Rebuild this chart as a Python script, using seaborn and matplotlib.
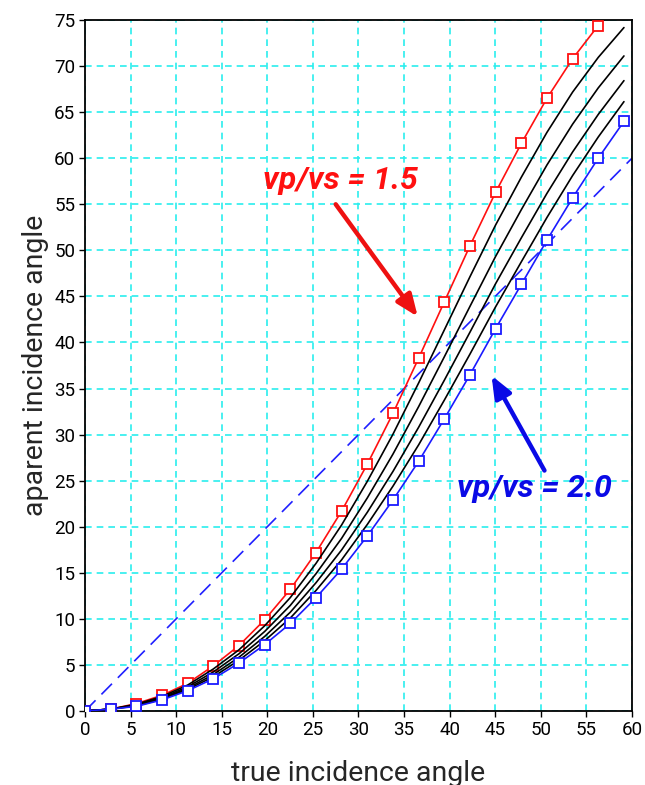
import matplotlib
matplotlib.use("Agg")
import matplotlib.pyplot as plt
import seaborn as sns
import numpy as np

sns.set_theme(style="white")
plt.rcParams['font.family'] = ['Roboto', 'DejaVu Sans']

# true incidence angle samples
true_angle = [0, 2.82, 5.63, 8.45, 11.26, 14.08, 16.89, 19.71, 22.52, 25.34, 28.15,
              30.97, 33.78, 36.6, 39.41, 42.23, 45.04, 47.86, 50.67, 53.49, 56.3, 59.12]

# vp/vs = 1.5 (red, markers) - stops at 56.3
app_15 = [0, 0.2, 0.8, 1.7, 3.0, 4.9, 7.1, 9.9, 13.2, 17.2, 21.7,
          26.8, 32.3, 38.3, 44.4, 50.5, 56.3, 61.6, 66.5, 70.8, 74.4]
# intermediate vp/vs curves (black)
app_16 = [0, 0.2, 0.73, 1.58, 2.81, 4.56, 6.64, 9.25, 12.31, 16.02, 20.19,
          24.93, 30.04, 35.61, 41.35, 47.14, 52.75, 57.93, 62.80, 67.18, 70.94, 74.18]
app_17 = [0, 0.2, 0.66, 1.47, 2.62, 4.24, 6.21, 8.63, 11.46, 14.90, 18.74,
          23.13, 27.88, 33.04, 38.43, 43.92, 49.34, 54.41, 59.26, 63.70, 67.63, 71.10]
app_18 = [0, 0.2, 0.60, 1.37, 2.46, 3.96, 5.83, 8.09, 10.72, 13.92, 17.48,
          21.57, 26.00, 30.80, 35.89, 41.12, 46.38, 51.35, 56.18, 60.68, 64.75, 68.42]
app_19 = [0, 0.2, 0.55, 1.28, 2.33, 3.72, 5.50, 7.63, 10.09, 13.08, 16.41,
          20.25, 24.40, 28.89, 33.73, 38.74, 43.87, 48.75, 53.56, 58.12, 62.30, 66.14]
# vp/vs = 2.0 (blue, markers)
app_20 = [0, 0.2, 0.5, 1.2, 2.2, 3.5, 5.2, 7.2, 9.5, 12.3, 15.4,
          19.0, 22.9, 27.1, 31.7, 36.5, 41.5, 46.3, 51.1, 55.7, 60.0, 64.0]

# reference line apparent = true
ref_x = [0, 60]
ref_y = [0, 60]

fig = plt.figure(figsize=(6.45, 7.85), dpi=100)
ax = fig.add_axes([0.1318, 0.0943, 0.848, 0.8802])

ax.grid(True, color='#2aeeee', linestyle=(0, (4, 3)), linewidth=1.2)
ax.set_axisbelow(True)

sns.lineplot(x=ref_x, y=ref_y, ax=ax, color='#2020ff', linewidth=1.2,
             dashes=False, linestyle=(0, (9, 5)), zorder=2)

sns.lineplot(x=true_angle[:len(app_15)], y=app_15, ax=ax, color='#ff1010', linewidth=1.2,
             marker='s', markersize=7.5, markerfacecolor='white',
             markeredgecolor='#ff1010', markeredgewidth=1.3, zorder=3)

for vals in [app_16, app_17, app_18, app_19]:
    sns.lineplot(x=true_angle, y=vals, ax=ax, color='black', linewidth=1.2, zorder=3)

sns.lineplot(x=true_angle, y=app_20, ax=ax, color='#1a1aff', linewidth=1.2,
             marker='s', markersize=7.5, markerfacecolor='white',
             markeredgecolor='#1a1aff', markeredgewidth=1.3, zorder=4)

# annotations
ax.annotate('', xy=(36.5, 42.8), xytext=(27.5, 55.0),
            arrowprops=dict(arrowstyle='-|>,head_length=1.1,head_width=0.45',
                            color='#ee1111', lw=3.2, shrinkA=0, shrinkB=0), zorder=5)
ax.text(28.0, 57.6, 'vp/vs = 1.5', color='#ff1010', fontsize=23,
        fontweight='bold', fontstyle='italic', ha='center', va='center')

ax.annotate('', xy=(44.6, 36.4), xytext=(50.4, 26.1),
            arrowprops=dict(arrowstyle='-|>,head_length=1.1,head_width=0.45',
                            color='#0a0ae6', lw=3.2, shrinkA=0, shrinkB=0), zorder=5)
ax.text(49.3, 24.1, 'vp/vs = 2.0', color='#0a0ae6', fontsize=23,
        fontweight='bold', fontstyle='italic', ha='center', va='center')

ax.set_xlim(0, 60)
ax.set_ylim(0, 75)
ax.set_xticks(np.arange(0, 61, 5))
ax.set_yticks(np.arange(0, 76, 5))
ax.tick_params(axis='both', direction='out', length=4, width=1, labelsize=13.5,
               bottom=True, left=True, colors='black', pad=3)
for sp in ax.spines.values():
    sp.set_color('black')
    sp.set_linewidth(1.3)

ax.set_xlabel('true incidence angle', fontsize=20.5, labelpad=15)
ax.set_ylabel('aparent incidence angle', fontsize=20.5, labelpad=4)

fig.savefig('out.png', dpi=100)
